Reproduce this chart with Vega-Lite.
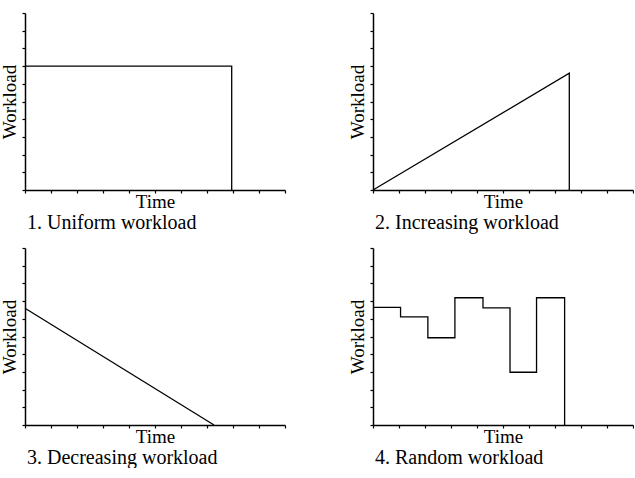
{
  "$schema": "https://vega.github.io/schema/vega-lite/v6.json",
  "background": "white",
  "padding": {"left": 0, "top": 12, "right": 0, "bottom": 0},
  "config": {
    "view": {"stroke": null},
    "axis": {
      "domainColor": "black", "domainWidth": 1.5,
      "tickColor": "black", "tickWidth": 1.2, "tickSize": 3,
      "labels": false, "grid": false,
      "titleFont": "Liberation Serif", "titleFontSize": 19, "titleFontWeight": "normal", "titleColor": "black"
    },
    "axisX": {"titlePadding": -1},
    "axisY": {"titlePadding": 2},
    "title": {"font": "Liberation Serif", "fontSize": 20, "fontWeight": "normal", "color": "black", "orient": "bottom", "anchor": "start", "frame": "group", "dx": 2, "offset": 1},
    "line": {"color": "black", "strokeWidth": 1.3, "interpolate": "step-after"}
  },
  "datasets": {
    "uniform": [{"t": 0, "w": 7}, {"t": 7.95, "w": 0}],
    "increasing": [{"i": 0, "t": 0, "w": 0}, {"i": 1, "t": 7.55, "w": 6.6}, {"i": 2, "t": 7.55, "w": 0}],
    "decreasing": [{"t": 0, "w": 6.6}, {"t": 7.27, "w": 0}],
    "random": [
      {"t": 0, "w": 6.64}, {"t": 1.06, "w": 6.11}, {"t": 2.11, "w": 4.93}, {"t": 3.15, "w": 7.19},
      {"t": 4.23, "w": 6.62}, {"t": 5.27, "w": 2.98}, {"t": 6.29, "w": 7.19}, {"t": 7.37, "w": 0}
    ]
  },
  "vconcat": [
    {
      "spacing": 62,
      "hconcat": [
        {
          "width": 260, "height": 177,
          "title": "1. Uniform workload",
          "data": {"name": "uniform"},
          "mark": {"type": "line"},
          "encoding": {
            "x": {"field": "t", "type": "quantitative", "title": "Time", "scale": {"domain": [0, 10], "nice": false}, "axis": {"values": [0,1,2,3,4,5,6,7,8,9,10]}},
            "y": {"field": "w", "type": "quantitative", "title": "Workload", "scale": {"domain": [0, 10], "nice": false}, "axis": {"values": [0,1,2,3,4,5,6,7,8,9,10]}}
          }
        },
        {
          "width": 260, "height": 177,
          "title": "2. Increasing workload",
          "data": {"name": "increasing"},
          "mark": {"type": "line", "interpolate": "linear"},
          "encoding": {
            "x": {"field": "t", "type": "quantitative", "title": "Time", "scale": {"domain": [0, 10], "nice": false}, "axis": {"values": [0,1,2,3,4,5,6,7,8,9,10]}},
            "y": {"field": "w", "type": "quantitative", "title": "Workload", "scale": {"domain": [0, 10], "nice": false}, "axis": {"values": [0,1,2,3,4,5,6,7,8,9,10]}},
            "order": {"field": "i"}
          }
        }
      ]
    },
    {
      "spacing": 62,
      "hconcat": [
        {
          "width": 260, "height": 177,
          "title": "3. Decreasing workload",
          "data": {"name": "decreasing"},
          "mark": {"type": "line", "interpolate": "linear"},
          "encoding": {
            "x": {"field": "t", "type": "quantitative", "title": "Time", "scale": {"domain": [0, 10], "nice": false}, "axis": {"values": [0,1,2,3,4,5,6,7,8,9,10]}},
            "y": {"field": "w", "type": "quantitative", "title": "Workload", "scale": {"domain": [0, 10], "nice": false}, "axis": {"values": [0,1,2,3,4,5,6,7,8,9,10]}}
          }
        },
        {
          "width": 260, "height": 177,
          "title": "4. Random workload",
          "data": {"name": "random"},
          "mark": {"type": "line"},
          "encoding": {
            "x": {"field": "t", "type": "quantitative", "title": "Time", "scale": {"domain": [0, 10], "nice": false}, "axis": {"values": [0,1,2,3,4,5,6,7,8,9,10]}},
            "y": {"field": "w", "type": "quantitative", "title": "Workload", "scale": {"domain": [0, 10], "nice": false}, "axis": {"values": [0,1,2,3,4,5,6,7,8,9,10]}}
          }
        }
      ]
    }
  ],
  "spacing": 14
}
